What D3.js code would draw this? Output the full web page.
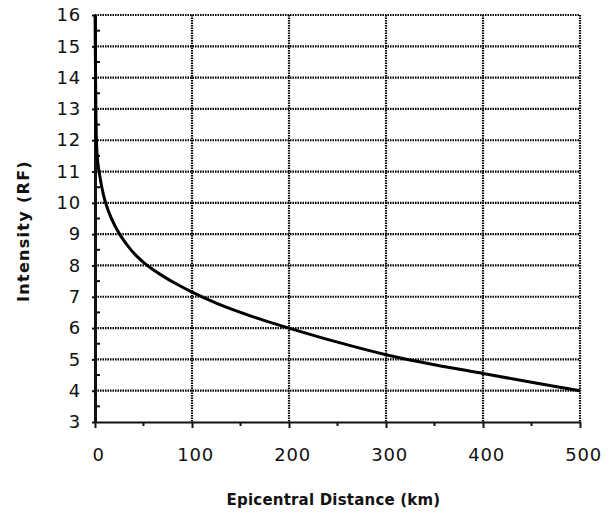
<!DOCTYPE html>
<html>
<head>
<meta charset="utf-8">
<script src="https://cdn.jsdelivr.net/npm/d3@7"></script>
<style>
  body { margin: 0; background: #fff; }
  text { font-family: "DejaVu Sans", sans-serif; fill: #111; }
</style>
</head>
<body>
<svg id="chart"></svg>
<script>
// curve
const distance = [0.1, 0.5, 1, 1.7, 3, 5, 7, 10, 14, 20, 26, 34, 42, 50, 60, 70, 85, 100, 125, 150, 175, 200, 250, 300, 350, 400, 450, 500];
const intensity = [16, 14.2, 12.8, 11.8, 11.25, 10.85, 10.5, 10.1, 9.72, 9.3, 8.97, 8.62, 8.33, 8.1, 7.86, 7.66, 7.39, 7.15, 6.8, 6.5, 6.24, 6.0, 5.55, 5.15, 4.83, 4.55, 4.27, 4.0];

const xTicks = [0, 100, 200, 300, 400, 500];
const yTicks = [3, 4, 5, 6, 7, 8, 9, 10, 11, 12, 13, 14, 15, 16];

const svg = d3.select("#chart")
  .attr("width", 612)
  .attr("height", 513);

const margin = { top: 15, right: 32, bottom: 91, left: 95 };
const width = 612 - margin.left - margin.right;
const height = 513 - margin.top - margin.bottom;

const x = d3.scaleLinear().domain([0, 500]).range([0, width]);
const y = d3.scaleLinear().domain([3, 16]).range([height, 0]);

const g = svg.append("g")
  .attr("transform", `translate(${margin.left},${margin.top})`);

// dotted grid
g.append("g").selectAll("line")
  .data(yTicks.slice(1))
  .enter().append("line")
  .attr("x1", 0).attr("x2", width)
  .attr("y1", d => y(d)).attr("y2", d => y(d))
  .attr("stroke", "#000")
  .attr("stroke-width", 2.2)
  .attr("stroke-dasharray", "1.5,1");

g.append("g").selectAll("line")
  .data(xTicks.slice(1))
  .enter().append("line")
  .attr("x1", d => x(d)).attr("x2", d => x(d))
  .attr("y1", 0).attr("y2", height)
  .attr("stroke", "#000")
  .attr("stroke-width", 2.2)
  .attr("stroke-dasharray", "1.5,1");

// minor ticks
g.append("g").selectAll("line")
  .data(d3.range(3.5, 16, 1))
  .enter().append("line")
  .attr("x1", 0).attr("x2", 5)
  .attr("y1", d => y(d)).attr("y2", d => y(d))
  .attr("stroke", "#111").attr("stroke-width", 2);

g.append("g").selectAll("line")
  .data(d3.range(50, 500, 100))
  .enter().append("line")
  .attr("x1", d => x(d)).attr("x2", d => x(d))
  .attr("y1", height).attr("y2", height + 4)
  .attr("stroke", "#111").attr("stroke-width", 2);

// axes
const xAxis = g.append("g")
  .attr("transform", `translate(0,${height})`)
  .call(d3.axisBottom(x).tickValues(xTicks).tickSize(6).tickPadding(20).tickSizeOuter(0));
xAxis.select(".domain").attr("stroke", "#111").attr("stroke-width", 2);
xAxis.selectAll(".tick line").attr("stroke", "#111").attr("stroke-width", 2);
xAxis.selectAll("text")
  .style("font-size", "18px")
  .style("letter-spacing", "0.8px")
  .attr("dx", 3);

const yAxis = g.append("g")
  .call(d3.axisLeft(y).tickValues(yTicks).tickSize(3).tickPadding(11).tickSizeOuter(0));
yAxis.select(".domain").attr("stroke", "#111").attr("stroke-width", 3);
yAxis.selectAll(".tick line").attr("stroke", "#111").attr("stroke-width", 2);
yAxis.selectAll("text")
  .style("font-size", "18px")
  .style("letter-spacing", "0.8px");

// curve
const line = d3.line()
  .x((d, i) => x(distance[i]))
  .y(d => y(d))
  .curve(d3.curveCatmullRom.alpha(0.5));

g.append("path")
  .datum(intensity)
  .attr("d", line)
  .attr("fill", "none")
  .attr("stroke", "#000")
  .attr("stroke-width", 3);

// axis titles
svg.append("text")
  .attr("x", margin.left + width / 2 - 4)
  .attr("y", 505)
  .attr("text-anchor", "middle")
  .style("font-size", "15px")
  .style("font-weight", "bold")
  .style("letter-spacing", "0.2px")
  .text("Epicentral Distance (km)");

svg.append("text")
  .attr("transform", "translate(29,231) rotate(-90)")
  .attr("text-anchor", "middle")
  .style("font-size", "16px")
  .style("font-weight", "bold")
  .style("letter-spacing", "1.3px")
  .text("Intensity (RF)");
</script>
</body>
</html>
